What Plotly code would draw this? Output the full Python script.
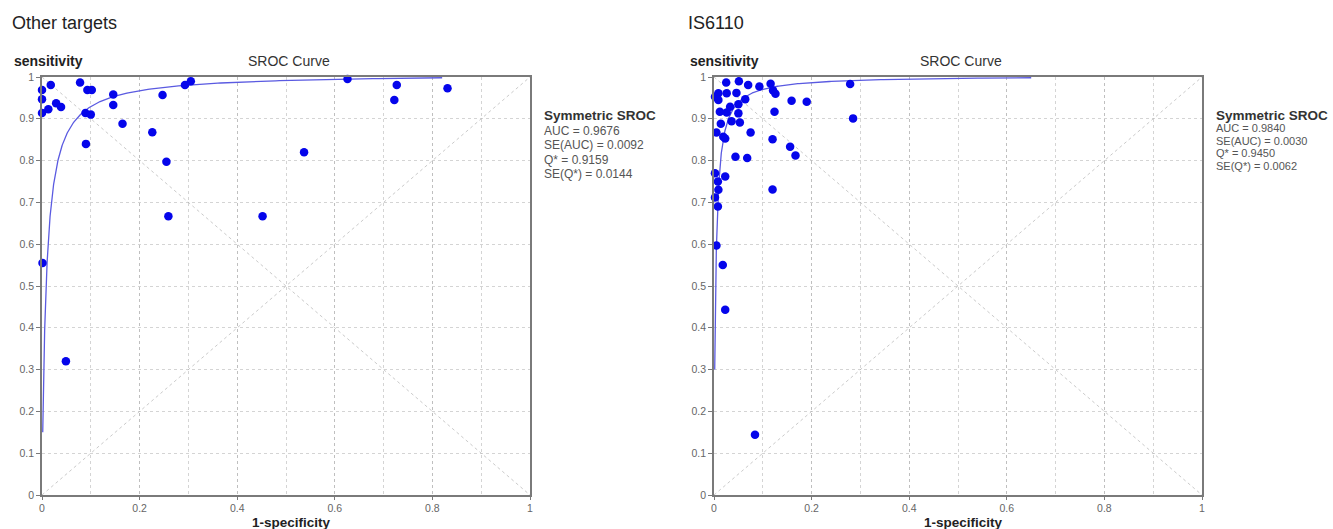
import numpy as np
import plotly.graph_objects as go

W, H = 1333, 529

# ---------------- data ----------------
panel_titles = ["Other targets", "IS6110"]

other_fpr = [0.0, 0.0, 0.018, 0.0, 0.013, 0.029, 0.039, 0.078, 0.093, 0.102,
             0.089, 0.100, 0.090, 0.146, 0.146, 0.165, 0.226, 0.247, 0.255, 0.293,
             0.305, 0.537, 0.626, 0.727, 0.722, 0.831, 0.259, 0.452, 0.001, 0.049]
other_tpr = [0.969, 0.947, 0.981, 0.914, 0.923, 0.937, 0.928, 0.987, 0.969, 0.969,
             0.914, 0.910, 0.840, 0.958, 0.933, 0.888, 0.868, 0.957, 0.797, 0.981,
             0.990, 0.820, 0.995, 0.981, 0.945, 0.973, 0.667, 0.667, 0.555, 0.320]

is_fpr = [0.025, 0.051, 0.070, 0.093, 0.116, 0.121, 0.126, 0.009, 0.026, 0.046,
          0.002, 0.009, 0.064, 0.050, 0.033, 0.012, 0.026, 0.050, 0.036, 0.053,
          0.014, 0.005, 0.023, 0.075, 0.124, 0.159, 0.190, 0.120, 0.156, 0.167,
          0.044, 0.068, 0.120, 0.279, 0.285, 0.002, 0.023, 0.008, 0.009, 0.002,
          0.008, 0.005, 0.018, 0.023, 0.084, 0.019]
is_tpr = [0.987, 0.990, 0.981, 0.977, 0.984, 0.968, 0.960, 0.961, 0.961, 0.962,
          0.953, 0.945, 0.947, 0.935, 0.929, 0.917, 0.915, 0.913, 0.894, 0.891,
          0.888, 0.867, 0.853, 0.867, 0.917, 0.943, 0.941, 0.851, 0.833, 0.812,
          0.809, 0.806, 0.731, 0.983, 0.901, 0.770, 0.762, 0.750, 0.730, 0.712,
          0.690, 0.597, 0.550, 0.443, 0.144, 0.857]

# summary statistics (Symmetric SROC)
other_stats = ["AUC = 0.9676", "SE(AUC) = 0.0092", "Q* = 0.9159", "SE(Q*) = 0.0144"]
is_stats = ["AUC = 0.9840", "SE(AUC) = 0.0030", "Q* = 0.9450", "SE(Q*) = 0.0062"]
other_q = 0.9159
is_q = 0.9450
other_curve_span = (0.15, 0.82)   # start sensitivity, end 1-specificity
is_curve_span = (0.30, 0.65)

x_tickvals = [0, 0.2, 0.4, 0.6, 0.8, 1]
x_ticktext = ["0", "0.2", "0.4", "0.6", "0.8", "1"]
y_tickvals = [0, 0.1, 0.2, 0.3, 0.4, 0.5, 0.6, 0.7, 0.8, 0.9, 1]
y_ticktext = ["0", "0.1", "0.2", "0.3", "0.4", "0.5", "0.6", "0.7", "0.8", "0.9", "1"]


def sroc_curve(q, tpr_start, fpr_end):
    """Symmetric Moses SROC curve implied by Q*."""
    dor = (q / (1 - q)) ** 2
    o0 = tpr_start / (1 - tpr_start) / dor
    f0 = o0 / (1 + o0)
    f = np.geomspace(f0, fpr_end, 400)
    o = dor * f / (1 - f)
    return f, o / (1 + o)


# ---------------- layout geometry (pixels) ----------------
panels = [
    dict(x0=42, x1=530, fpr=other_fpr, tpr=other_tpr, q=other_q, span=other_curve_span,
         stats=other_stats, title_x=10, stat_x=542, stat_dy=14.6, stat_size=12),
    dict(x0=714, x1=1202, fpr=is_fpr, tpr=is_tpr, q=is_q, span=is_curve_span,
         stats=is_stats, title_x=686, stat_x=1214, stat_dy=12.4, stat_size=11),
]
y_top, y_bot = 77, 495

FONT = "Liberation Sans, Arial, sans-serif"
BLUE = "rgb(5,5,235)"
CURVE = "rgb(90,90,225)"
GRID = "rgba(170,170,170,0.5)"

fig = go.Figure()
annotations = []


def px_x(p):
    return p / W


def px_y(p):
    return 1 - p / H


for i, p in enumerate(panels, start=1):
    xa = "x" if i == 1 else f"x{i}"
    ya = "y" if i == 1 else f"y{i}"

    # reference diagonals
    fig.add_trace(go.Scatter(x=[0, 1], y=[0, 1], mode="lines", xaxis=xa, yaxis=ya,
                             line=dict(color="rgba(180,180,180,0.7)", width=1, dash="dot"),
                             hoverinfo="skip", showlegend=False))
    fig.add_trace(go.Scatter(x=[0, 1], y=[1, 0], mode="lines", xaxis=xa, yaxis=ya,
                             line=dict(color="rgba(180,180,180,0.7)", width=1, dash="dot"),
                             hoverinfo="skip", showlegend=False))
    # SROC curve
    cf, ct = sroc_curve(p["q"], p["span"][0], p["span"][1])
    fig.add_trace(go.Scatter(x=cf, y=ct, mode="lines", xaxis=xa, yaxis=ya,
                             line=dict(color=CURVE, width=1.3),
                             hoverinfo="skip", showlegend=False))
    # study points
    fig.add_trace(go.Scatter(x=p["fpr"], y=p["tpr"], mode="markers", xaxis=xa, yaxis=ya,
                             marker=dict(color=BLUE, size=8.5, line=dict(width=0)),
                             cliponaxis=False, showlegend=False))

    xdom = [px_x(p["x0"]), px_x(p["x1"])]
    ydom = [px_y(y_bot), px_y(y_top)]
    axis_common = dict(showline=True, mirror=True, linecolor="#7a7a7a", linewidth=1.5,
                       ticks="outside", ticklen=4, tickcolor="#7a7a7a",
                       tickfont=dict(family=FONT, size=10.5, color="#666666"),
                       showgrid=True, gridcolor=GRID, griddash="dot", gridwidth=1,
                       zeroline=False, fixedrange=True, automargin=False)
    fig.update_layout(**{
        ("xaxis" if i == 1 else f"xaxis{i}"): dict(
            domain=xdom, range=[0, 1], anchor=ya,
            tickvals=x_tickvals, ticktext=x_ticktext, ticklen=3,
            minor=dict(dtick=0.1, showgrid=True, gridcolor=GRID, griddash="dot", ticks=""),
            **{k: v for k, v in axis_common.items() if k != "ticklen"}),
        ("yaxis" if i == 1 else f"yaxis{i}"): dict(
            domain=ydom, range=[0, 1], anchor=xa,
            tickvals=y_tickvals, ticktext=y_ticktext,
            **axis_common),
    })

    cx = (p["x0"] + p["x1"]) / 2
    annotations += [
        dict(text=panel_titles[i - 1], x=px_x(p["title_x"]), y=px_y(23), xanchor="left",
             yanchor="middle", font=dict(family=FONT, size=18, color="#222")),
        dict(text="<b>sensitivity</b>", x=px_x(p["title_x"] + 2), y=px_y(61), xanchor="left",
             yanchor="middle", font=dict(family=FONT, size=14, color="#222")),
        dict(text="SROC Curve", x=px_x(cx + 3), y=px_y(61), xanchor="center",
             yanchor="middle", font=dict(family=FONT, size=14, color="#333")),
        dict(text="<b>1-specificity</b>", x=px_x(cx + 5), y=px_y(522), xanchor="center",
             yanchor="middle", font=dict(family=FONT, size=13.5, color="#222")),
        dict(text="<b>Symmetric SROC</b>", x=px_x(p["stat_x"]), y=px_y(116), xanchor="left",
             yanchor="middle", font=dict(family=FONT, size=13.5, color="#333")),
    ]
    for k, s in enumerate(p["stats"]):
        annotations.append(dict(text=s, x=px_x(p["stat_x"]), y=px_y(116 + p["stat_dy"] * (k + 1)),
                                xanchor="left", yanchor="middle",
                                font=dict(family=FONT, size=p["stat_size"], color="#555")))

for a in annotations:
    a.update(xref="paper", yref="paper", showarrow=False)

fig.update_layout(width=W, height=H, margin=dict(l=0, r=0, t=0, b=0, pad=0),
                  paper_bgcolor="white", plot_bgcolor="white",
                  annotations=annotations, showlegend=False)

fig.write_html("out.html",
               config={"displayModeBar": False},
               post_script="document.body.style.margin='0';document.body.style.padding='0';"
                           "document.documentElement.style.overflow='hidden';")
